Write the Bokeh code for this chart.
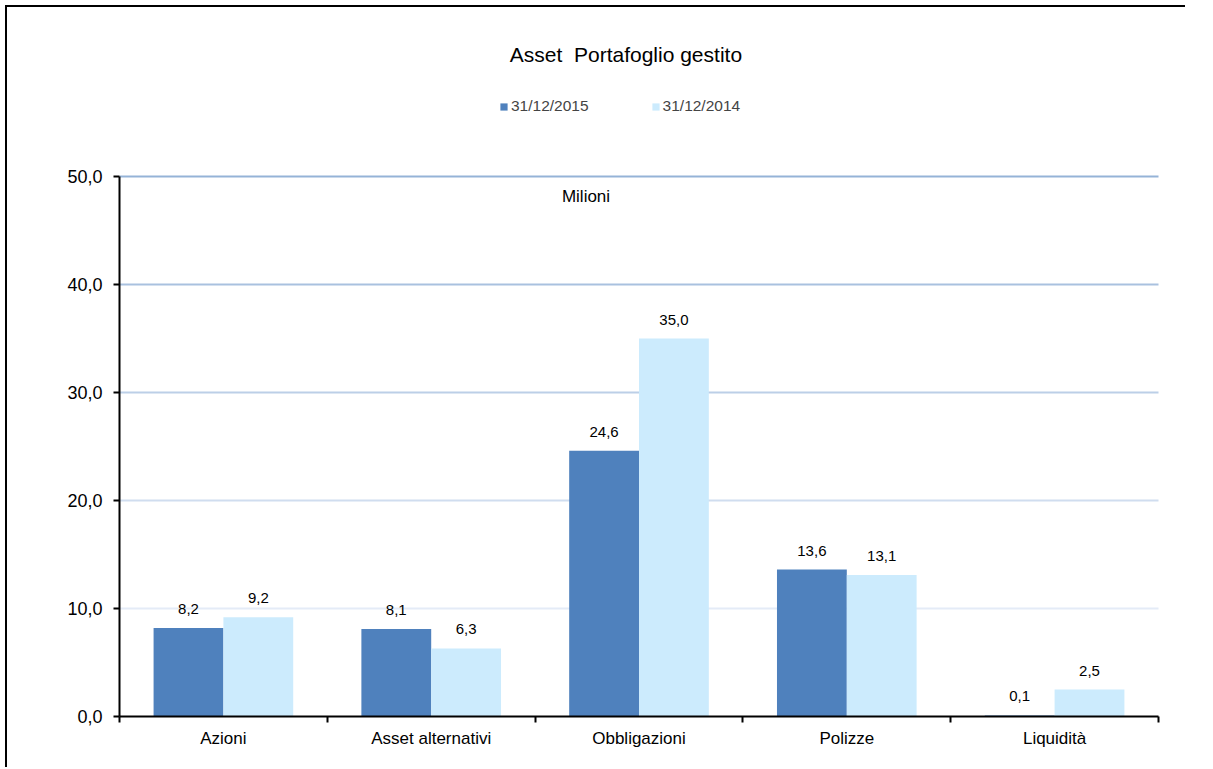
from bokeh.plotting import figure
from bokeh.models import (Range1d, FixedTicker, Label, LabelSet, ColumnDataSource,
                          Legend, LegendItem)
from bokeh.core.properties import value
from bokeh.embed import file_html
from bokeh.resources import INLINE

# --- data -------------------------------------------------------------
categories = ["Azioni", "Asset alternativi", "Obbligazioni", "Polizze", "Liquidità"]
values_2015 = [8.2, 8.1, 24.6, 13.6, 0.1]
values_2014 = [9.2, 6.3, 35.0, 13.1, 2.5]
series_names = ["31/12/2015", "31/12/2014"]
y_ticks = [0, 10, 20, 30, 40, 50]
title_text = "Asset\u00a0 Portafoglio gestito"
unit_text = "Milioni"


def it_fmt(v):
    """Italian decimal notation with one decimal place."""
    return f"{v:.1f}".replace(".", ",")


FONT = "Liberation Sans"
DARK = "#4F81BD"
LIGHT = "#CCEBFD"
BAR_W = 0.336

W, H = 1180, 762            # canvas size (a 2px top/left rule sits outside it)
LEFT = 112                  # room for the value axis
BOTTOM = 53                 # room for the category axis
PX_PER_UNIT = 10.8          # vertical scale of the value axis
CAT_PX = 207.8              # width of one category slot
FRAME_H = H - BOTTOM
FRAME_W = W - LEFT
Y_TOP = FRAME_H / PX_PER_UNIT
X_END = FRAME_W / CAT_PX
N = len(categories)

centers = [i + 0.5 for i in range(N)]
x_2015 = [c - BAR_W / 2 for c in centers]
x_2014 = [c + BAR_W / 2 for c in centers]

p = figure(width=W, height=H,
           x_range=Range1d(0, X_END), y_range=Range1d(0, Y_TOP),
           output_backend="svg", toolbar_location=None,
           min_border_left=LEFT, min_border_right=0,
           min_border_top=0, min_border_bottom=BOTTOM)
p.styles = {"margin-left": "5px", "margin-top": "5px",
            "border-top": "2px solid black", "border-left": "2px solid black"}
p.outline_line_color = None
p.xgrid.visible = False
p.ygrid.visible = False
p.background_fill_color = "white"
p.border_fill_color = "white"


# horizontal gridlines, fading from top to bottom
def mix(c1, c2, t):
    a = [int(c1[i:i + 2], 16) for i in (1, 3, 5)]
    b = [int(c2[i:i + 2], 16) for i in (1, 3, 5)]
    return "#" + "".join(f"{round(x + (y - x) * t):02x}" for x, y in zip(a, b))


grid_vals = y_ticks[1:]
top_col, bottom_col = "#95B3D7", "#E4EBF7"
n = len(grid_vals)
grid_cols = [mix(bottom_col, top_col, i / (n - 1)) for i in range(n)]
p.segment(x0=[0] * n, x1=[N] * n, y0=grid_vals, y1=grid_vals,
          line_color=grid_cols, line_width=2)

# bars
r1 = p.vbar(x=x_2015, top=values_2015, width=BAR_W, bottom=0,
            fill_color=DARK, line_color=None)
r2 = p.vbar(x=x_2014, top=values_2014, width=BAR_W, bottom=0,
            fill_color=LIGHT, line_color=None)

# value labels above bars
lbl_src = ColumnDataSource(dict(
    x=x_2015 + x_2014,
    y=values_2015 + values_2014,
    text=[it_fmt(v) for v in values_2015 + values_2014],
))
p.add_layout(LabelSet(x="x", y="y", text="text", source=lbl_src, y_offset=19,
                      text_align="center", text_baseline="middle",
                      text_font=value(FONT), text_font_size=value("15px"),
                      text_color="black"))

# y axis, drawn only over the value range
p.yaxis.ticker = FixedTicker(ticks=y_ticks)
p.yaxis.bounds = (y_ticks[0], y_ticks[-1])
p.yaxis.major_label_overrides = {t: it_fmt(t) for t in y_ticks}
p.yaxis.axis_line_width = 2
p.yaxis.axis_line_color = "black"
p.yaxis.major_tick_out = 6
p.yaxis.major_tick_in = 0
p.yaxis.major_tick_line_width = 2
p.yaxis.major_tick_line_color = "black"
p.yaxis.minor_tick_line_color = None
p.yaxis.major_label_standoff = 11
p.yaxis.major_label_text_font = FONT
p.yaxis.major_label_text_font_size = "18px"
p.yaxis.major_label_text_color = "black"

# x axis: labels at category centres, ticks at category boundaries
p.xaxis.bounds = (0, N)
p.xaxis.ticker = FixedTicker(ticks=centers, minor_ticks=list(range(N + 1)))
p.xaxis.major_label_overrides = {c: name for c, name in zip(centers, categories)}
p.xaxis.major_tick_line_color = None
p.xaxis.major_tick_out = 0
p.xaxis.major_tick_in = 0
p.xaxis.minor_tick_out = 6
p.xaxis.minor_tick_in = 0
p.xaxis.minor_tick_line_width = 2
p.xaxis.minor_tick_line_color = "black"
p.xaxis.axis_line_width = 2
p.xaxis.axis_line_color = "black"
p.xaxis.major_label_standoff = 6
p.xaxis.major_label_text_font = FONT
p.xaxis.major_label_text_font_size = "17px"
p.xaxis.major_label_text_color = "black"

# legend
legend = Legend(items=[LegendItem(label=series_names[0], renderers=[r1]),
                       LegendItem(label=series_names[1], renderers=[r2])],
                orientation="horizontal", location=(380, 601),
                padding=0, spacing=62, margin=0,
                glyph_width=9, glyph_height=9, label_standoff=3,
                label_text_font=FONT, label_text_font_size="15.5px",
                border_line_color=None, background_fill_alpha=0)
p.add_layout(legend)

# title and unit caption
p.add_layout(Label(x=2.437, y=61.3, text=title_text, text_align="center",
                   text_baseline="middle", text_font=FONT, text_font_size="21px",
                   text_color="black"))
p.add_layout(Label(x=2.245, y=48.15, text=unit_text, text_align="center",
                   text_baseline="middle", text_font=FONT, text_font_size="17px",
                   text_color="black"))

open("out.html", "w").write(file_html(p, INLINE))
